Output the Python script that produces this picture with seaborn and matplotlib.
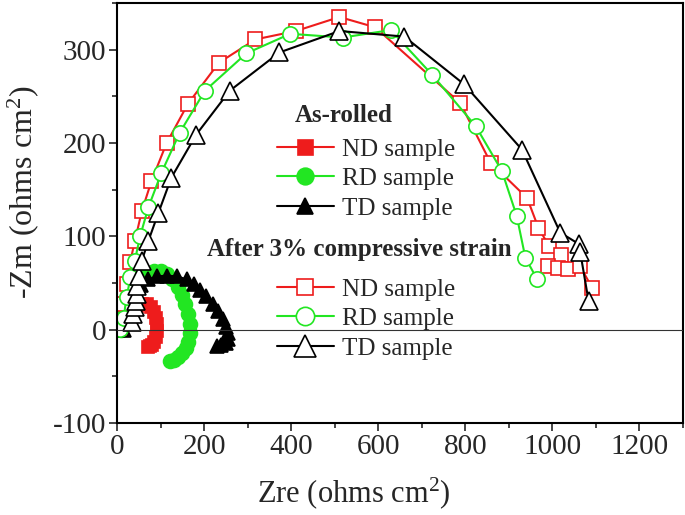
import matplotlib
matplotlib.use("Agg")
import matplotlib.pyplot as plt
from matplotlib.ticker import MultipleLocator
import seaborn as sns

# As-rolled (filled symbols)
nd_roll_x = [5, 10, 16, 24, 34, 46, 58, 68, 77, 84, 89, 92, 92, 90, 86, 81, 76, 72]
nd_roll_y = [0, 7, 13, 18, 22, 25, 27, 27, 24, 19, 13, 6, -1, -8, -13, -16, -18, -19]
rd_roll_x = [10, 14, 19, 26, 35, 46, 58, 71, 85, 100, 114, 127, 139, 149, 157, 163, 167, 167,
             164, 158, 150, 140, 130, 121]
rd_roll_y = [0, 10, 20, 30, 40, 48, 55, 60, 63, 63, 60, 54, 46, 37, 27, 17, 6, -4,
             -13, -20, -25, -29, -32, -34]
td_roll_x = [15, 20, 28, 40, 55, 72, 92, 115, 138, 160, 176, 190, 205, 220, 232, 243, 250,
             255, 256, 250, 240, 230]
td_roll_y = [0, 12, 25, 38, 48, 54, 57, 58, 57, 54, 49, 43, 36, 28, 20, 11, 3,
             -4, -10, -14, -16, -17]

# After 3% compressive strain (open symbols)
nd_comp_x = [5, 14, 22, 30, 41, 57, 79, 114, 163, 234, 318, 411, 511, 593, 788, 858, 942,
             968, 992, 1020, 990, 1012, 1037, 1064, 1091]
nd_comp_y = [2, 28, 49, 72, 95, 127, 159, 200, 242, 286, 311, 320, 335, 324, 243, 179, 141,
             109, 90, 80, 68, 66, 65, 68, 45]
rd_comp_x = [6, 15, 22, 31, 41, 53, 72, 102, 144, 202, 297, 398, 518, 629, 724, 824, 884,
             918, 938, 965]
rd_comp_y = [1, 12, 35, 56, 74, 100, 131, 168, 211, 256, 296, 317, 313, 321, 273, 218, 170,
             122, 77, 54]
td_comp_x = [34, 37, 41, 43, 45, 46, 51, 57, 72, 95, 125, 182, 259, 373, 511, 660, 797, 930,
             1018, 1060, 1064, 1083]
td_comp_y = [8, 17, 24, 31, 38, 47, 58, 74, 95, 125, 163, 209, 256, 297, 320, 314, 263, 193,
             104, 92, 83, 31]

sample_labels = ["ND sample", "RD sample", "TD sample"]

RED = "#ee1c1c"
GREEN = "#22e622"
BLACK = "#000000"

sns.set_style("ticks")
plt.rcParams["font.family"] = ["Liberation Serif", "DejaVu Serif"]
plt.rcParams["mathtext.fontset"] = "custom"
plt.rcParams["mathtext.rm"] = "Liberation Serif"
plt.rcParams["mathtext.it"] = "Liberation Serif:italic"
plt.rcParams["mathtext.bf"] = "Liberation Serif:bold"
plt.rcParams["axes.unicode_minus"] = False

fig = plt.figure(figsize=(6.85, 5.15), dpi=100)
ax = fig.add_axes([117 / 685, 1 - 423 / 515, 566 / 685, 420 / 515])


def draw(x, y, color, marker, ms, face):
    sns.lineplot(x=x, y=y, ax=ax, sort=False, estimator=None, color=color, lw=1.5,
                 marker=marker, markersize=ms, markerfacecolor=face,
                 markeredgecolor=color, markeredgewidth=1.2, legend=False)
    return ax.lines[-1]


h_roll = [
    draw(nd_roll_x, nd_roll_y, RED, "s", 9, RED),
    draw(rd_roll_x, rd_roll_y, GREEN, "o", 10, GREEN),
    draw(td_roll_x, td_roll_y, BLACK, "^", 10, BLACK),
]
h_comp = [
    draw(nd_comp_x, nd_comp_y, RED, "s", 10, "white"),
    draw(rd_comp_x, rd_comp_y, GREEN, "o", 11, "white"),
    draw(td_comp_x, td_comp_y, BLACK, "^", 13, "white"),
]

ax.axhline(0, color="#333333", lw=0.8, zorder=10)

ax.set_xlim(0, 1300)
ax.set_ylim(-100, 350)
ax.xaxis.set_minor_locator(MultipleLocator(100))
ax.yaxis.set_major_locator(MultipleLocator(100))
ax.yaxis.set_minor_locator(MultipleLocator(50))
ax.set_xticks(range(0, 1201, 200))
ax.tick_params(which="major", direction="out", length=6, width=1.2, labelsize=21,
               top=False, right=False, pad=2)
ax.tick_params(which="minor", direction="out", length=3.5, width=1.2, top=False, right=False)
for sp in ax.spines.values():
    sp.set_visible(True)
    sp.set_linewidth(1.5)
    sp.set_color("black")

ax.set_xlabel("Zre (ohms cm$^2$)", fontsize=22)
ax.set_ylabel("-Zm (ohms cm$^2$)", fontsize=23)
ax.xaxis.set_label_coords(0.418, -0.125)
ax.yaxis.set_label_coords(-0.135, 0.55)

leg_kw = dict(loc="upper left", frameon=False, fontsize=18, borderpad=0,
              handlelength=2.3, handletextpad=0.3, labelspacing=0.28, markerscale=1.2,
              borderaxespad=0)
leg1 = ax.legend(h_roll, sample_labels, bbox_to_anchor=(0.282, 0.678), **leg_kw)
ax.add_artist(leg1)
ax.legend(h_comp, sample_labels, bbox_to_anchor=(0.282, 0.345), **leg_kw)

ax.text(0.400, 0.733, "As-rolled", transform=ax.transAxes, ha="center", va="center",
        fontsize=18, fontweight="bold")
ax.text(0.428, 0.412, "After 3% compressive strain", transform=ax.transAxes,
        ha="center", va="center", fontsize=18, fontweight="bold")

fig.savefig("out.png", dpi=100)
